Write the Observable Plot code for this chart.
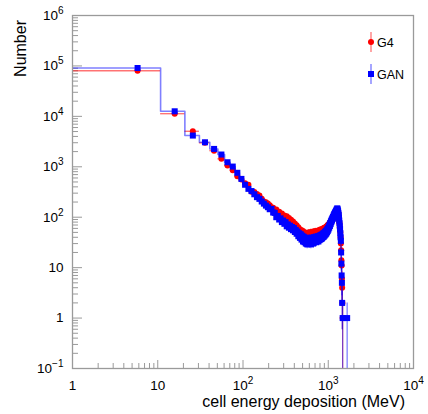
<!DOCTYPE html>
<html><head><meta charset="utf-8">
<script src="https://cdn.jsdelivr.net/npm/d3@7"></script>
<script src="https://cdn.jsdelivr.net/npm/@observablehq/plot@0.6"></script>
<style>
html,body{margin:0;padding:0;background:#fff;}
#wrap{position:relative;width:428px;height:414px;}
</style></head><body><div id="wrap"></div>
<script>
// Histogram binning (MeV)
const binStart = 0.8, binWidth = 10;
// G4 counts per bin
const g4Counts = [
80000,11300,5060,2980,2090,1440,1060,850,650,560,
470,440,320,318,290,268,232,205,198,188,
172,158,154,138,142,124,128,112,118,103,
108,96,104,91,97,84,89,77,82,70,
75,65,69,59,63,54,58,51,55,48,
53,45,50,43,49,44,48,42,50,43,
49,44,51,43,50,45,52,44,51,46,
53,45,52,47,54,46,53,48,55,47,
57,49,56,50,58,51,59,52,61,53,
62,55,63,56,65,58,67,60,70,63,
72,67,74,70,79,73,83,78,86,82,
91,87,96,92,102,98,108,104,114,110,
120,116,127,122,132,127,136,130,134,126,
128,118,105,92,80,74,63,55,50,40,
30,22,14,11,6,4,2,1,0,0,
0,0,0,0,0,0,0,0,0,0,
0,0,0,0,0,0,0];
// GAN counts per bin
const ganCounts = [
91000,12600,4160,3060,2260,1750,1230,1010,760,575,
440,365,330,285,250,231,205,186,170,158,
144,146,124,122,100,106,90,95,80,86,
74,80,66,72,62,68,58,64,55,61,
51,56,47,52,42,48,39,46,36,43,
33,41,32,39,30,38,29,37,31,39,
30,37,29,38,31,39,30,40,32,39,
33,41,32,40,34,42,33,41,35,43,
36,44,37,45,38,46,40,48,41,49,
43,51,45,53,47,55,50,58,53,61,
57,66,62,71,67,77,73,83,80,89,
86,95,92,101,98,108,105,115,112,122,
119,128,126,135,132,142,140,150,144,136,
130,120,110,98,86,76,66,58,48,40,
34,20,12,7,5,2,0,1,0,0,
0,0,0,0,0,0,0,0,0,0,
0,0,0,0,0,0,1];
const seriesNames = ["G4", "GAN"];
const seriesColors = ["#ff0000", "#0000ff"];
const xMajor = [1, 10, 100, 1000, 10000];
const yMajor = [0.1, 1, 10, 100, 1000, 10000, 100000, 1000000];

const xMinor = [];
for (let d = 0; d < 4; d++) for (let k = 2; k <= 9; k++) xMinor.push(k * Math.pow(10, d));
const yMinor = [];
for (let d = -1; d < 6; d++) for (let k = 2; k <= 9; k++) yMinor.push(k * Math.pow(10, d));

function rows(counts) {
  return counts.map((n, i) => {
    const lo = binStart + i * binWidth, hi = lo + binWidth;
    const e = Math.sqrt(n);
    return {lo, hi, c: (lo + hi) / 2, n, e1: Math.max(n - e, 0.01), e2: n + e};
  }).filter(d => d.n > 0);
}
const g4Rows = rows(g4Counts);
const ganRows = rows(ganCounts);
const ganStep = [];
for (let i = 0; i < ganCounts.length && ganCounts[i] > 0; i++) {
  const lo = binStart + i * binWidth;
  ganStep.push({x: lo, y: ganCounts[i]}, {x: lo + binWidth, y: ganCounts[i]});
}

const W = 428, H = 414, mL = 72, mR = 15, mT = 15, mB = 46;
const pW = W - mL - mR, pH = H - mT - mB;
const fmt = d => d === 1 ? "1" : d === 10 ? "10" : "10^" + String(Math.round(Math.log10(d))).replace("-", "\u2212");
const font = "'Liberation Sans', Arial, Helvetica, sans-serif";
const axisGray = "#9a9a9a";

const chart = Plot.plot({
  width: W, height: H,
  marginLeft: mL, marginRight: mR, marginTop: mT, marginBottom: mB,
  style: {fontFamily: font, fontSize: "13.5px", color: "#000", background: "#fff"},
  x: {type: "log", domain: [1, 1e4]},
  y: {type: "log", domain: [0.1, 1e6]},
  marks: [
    Plot.ruleX(xMajor.slice(1, -1), {stroke: axisGray, insetTop: pH - 8}),
    Plot.ruleX(xMinor, {stroke: axisGray, insetTop: pH - 5}),
    Plot.ruleY(yMajor.slice(1, -1), {stroke: axisGray, insetRight: pW - 10}),
    Plot.ruleY(yMinor, {stroke: axisGray, insetRight: pW - 6}),
    // G4
    Plot.ruleY(g4Rows, {y: "n", x1: "lo", x2: "hi", stroke: seriesColors[0], strokeOpacity: 0.55, strokeWidth: 1.4, clip: true}),
    Plot.ruleX(g4Rows, {x: "c", y1: "e1", y2: "e2", stroke: seriesColors[0], strokeOpacity: 0.55, strokeWidth: 1.2, clip: true}),
    Plot.dot(g4Rows, {x: "c", y: "n", fill: seriesColors[0], r: 3, clip: true}),
    // GAN
    Plot.line(ganStep, {x: "x", y: "y", stroke: seriesColors[1], strokeOpacity: 0.5, strokeWidth: 1.6, clip: true}),
    Plot.ruleX(ganRows, {x: "c", y1: "e1", y2: "e2", stroke: seriesColors[1], strokeOpacity: 0.55, strokeWidth: 1.2, clip: true}),
    Plot.dot(ganRows, {x: "c", y: "n", fill: seriesColors[1], symbol: "square", r: 3.4, clip: true}),
    Plot.frame({stroke: axisGray, strokeWidth: 1.3}),
    Plot.axisX({ticks: xMajor, tickSize: 0, tickPadding: 12, tickFormat: fmt, label: null}),
    Plot.axisY({ticks: yMajor, tickSize: 0, tickPadding: 9, tickFormat: fmt, label: null})
  ]
});
document.getElementById("wrap").appendChild(chart);

// superscript exponents in tick labels
chart.querySelectorAll("text").forEach(t => {
  const m = t.textContent.match(/^10\^(.+)$/);
  if (m) {
    t.textContent = "10";
    const ts = document.createElementNS("http://www.w3.org/2000/svg", "tspan");
    ts.setAttribute("dy", "-6");
    ts.setAttribute("font-size", "10px");
    ts.textContent = m[1];
    t.appendChild(ts);
  }
});

const svg = d3.select(chart);
svg.append("text").attr("transform", "translate(25.5,20) rotate(-90)")
  .attr("text-anchor", "end").attr("font-family", font).attr("font-size", "16px")
  .attr("fill", "#000").text("Number");
svg.append("text").attr("x", 405).attr("y", 407)
  .attr("text-anchor", "end").attr("font-family", font).attr("font-size", "16px")
  .attr("fill", "#000").text("cell energy deposition (MeV)");

// legend
const leg = svg.append("g");
const legY = [42, 74];
seriesNames.forEach((name, i) => {
  const y = legY[i], x = 371;
  leg.append("line").attr("x1", x).attr("x2", x).attr("y1", y - 10).attr("y2", y + 10)
    .attr("stroke", seriesColors[i]).attr("stroke-opacity", 0.5).attr("stroke-width", 1.4);
  leg.append("line").attr("x1", x - 3).attr("x2", x + 3).attr("y1", y).attr("y2", y)
    .attr("stroke", seriesColors[i]).attr("stroke-opacity", 0.5).attr("stroke-width", 1.4);
  if (i === 0) leg.append("circle").attr("cx", x).attr("cy", y).attr("r", 3).attr("fill", seriesColors[i]);
  else leg.append("rect").attr("x", x - 3).attr("y", y - 3).attr("width", 6).attr("height", 6).attr("fill", seriesColors[i]);
  leg.append("text").attr("x", 377).attr("y", y + 4.5).attr("text-anchor", "start")
    .attr("font-family", font).attr("font-size", "12.5px")
    .attr("fill", "#000").text(name);
});
</script>
</body></html>
